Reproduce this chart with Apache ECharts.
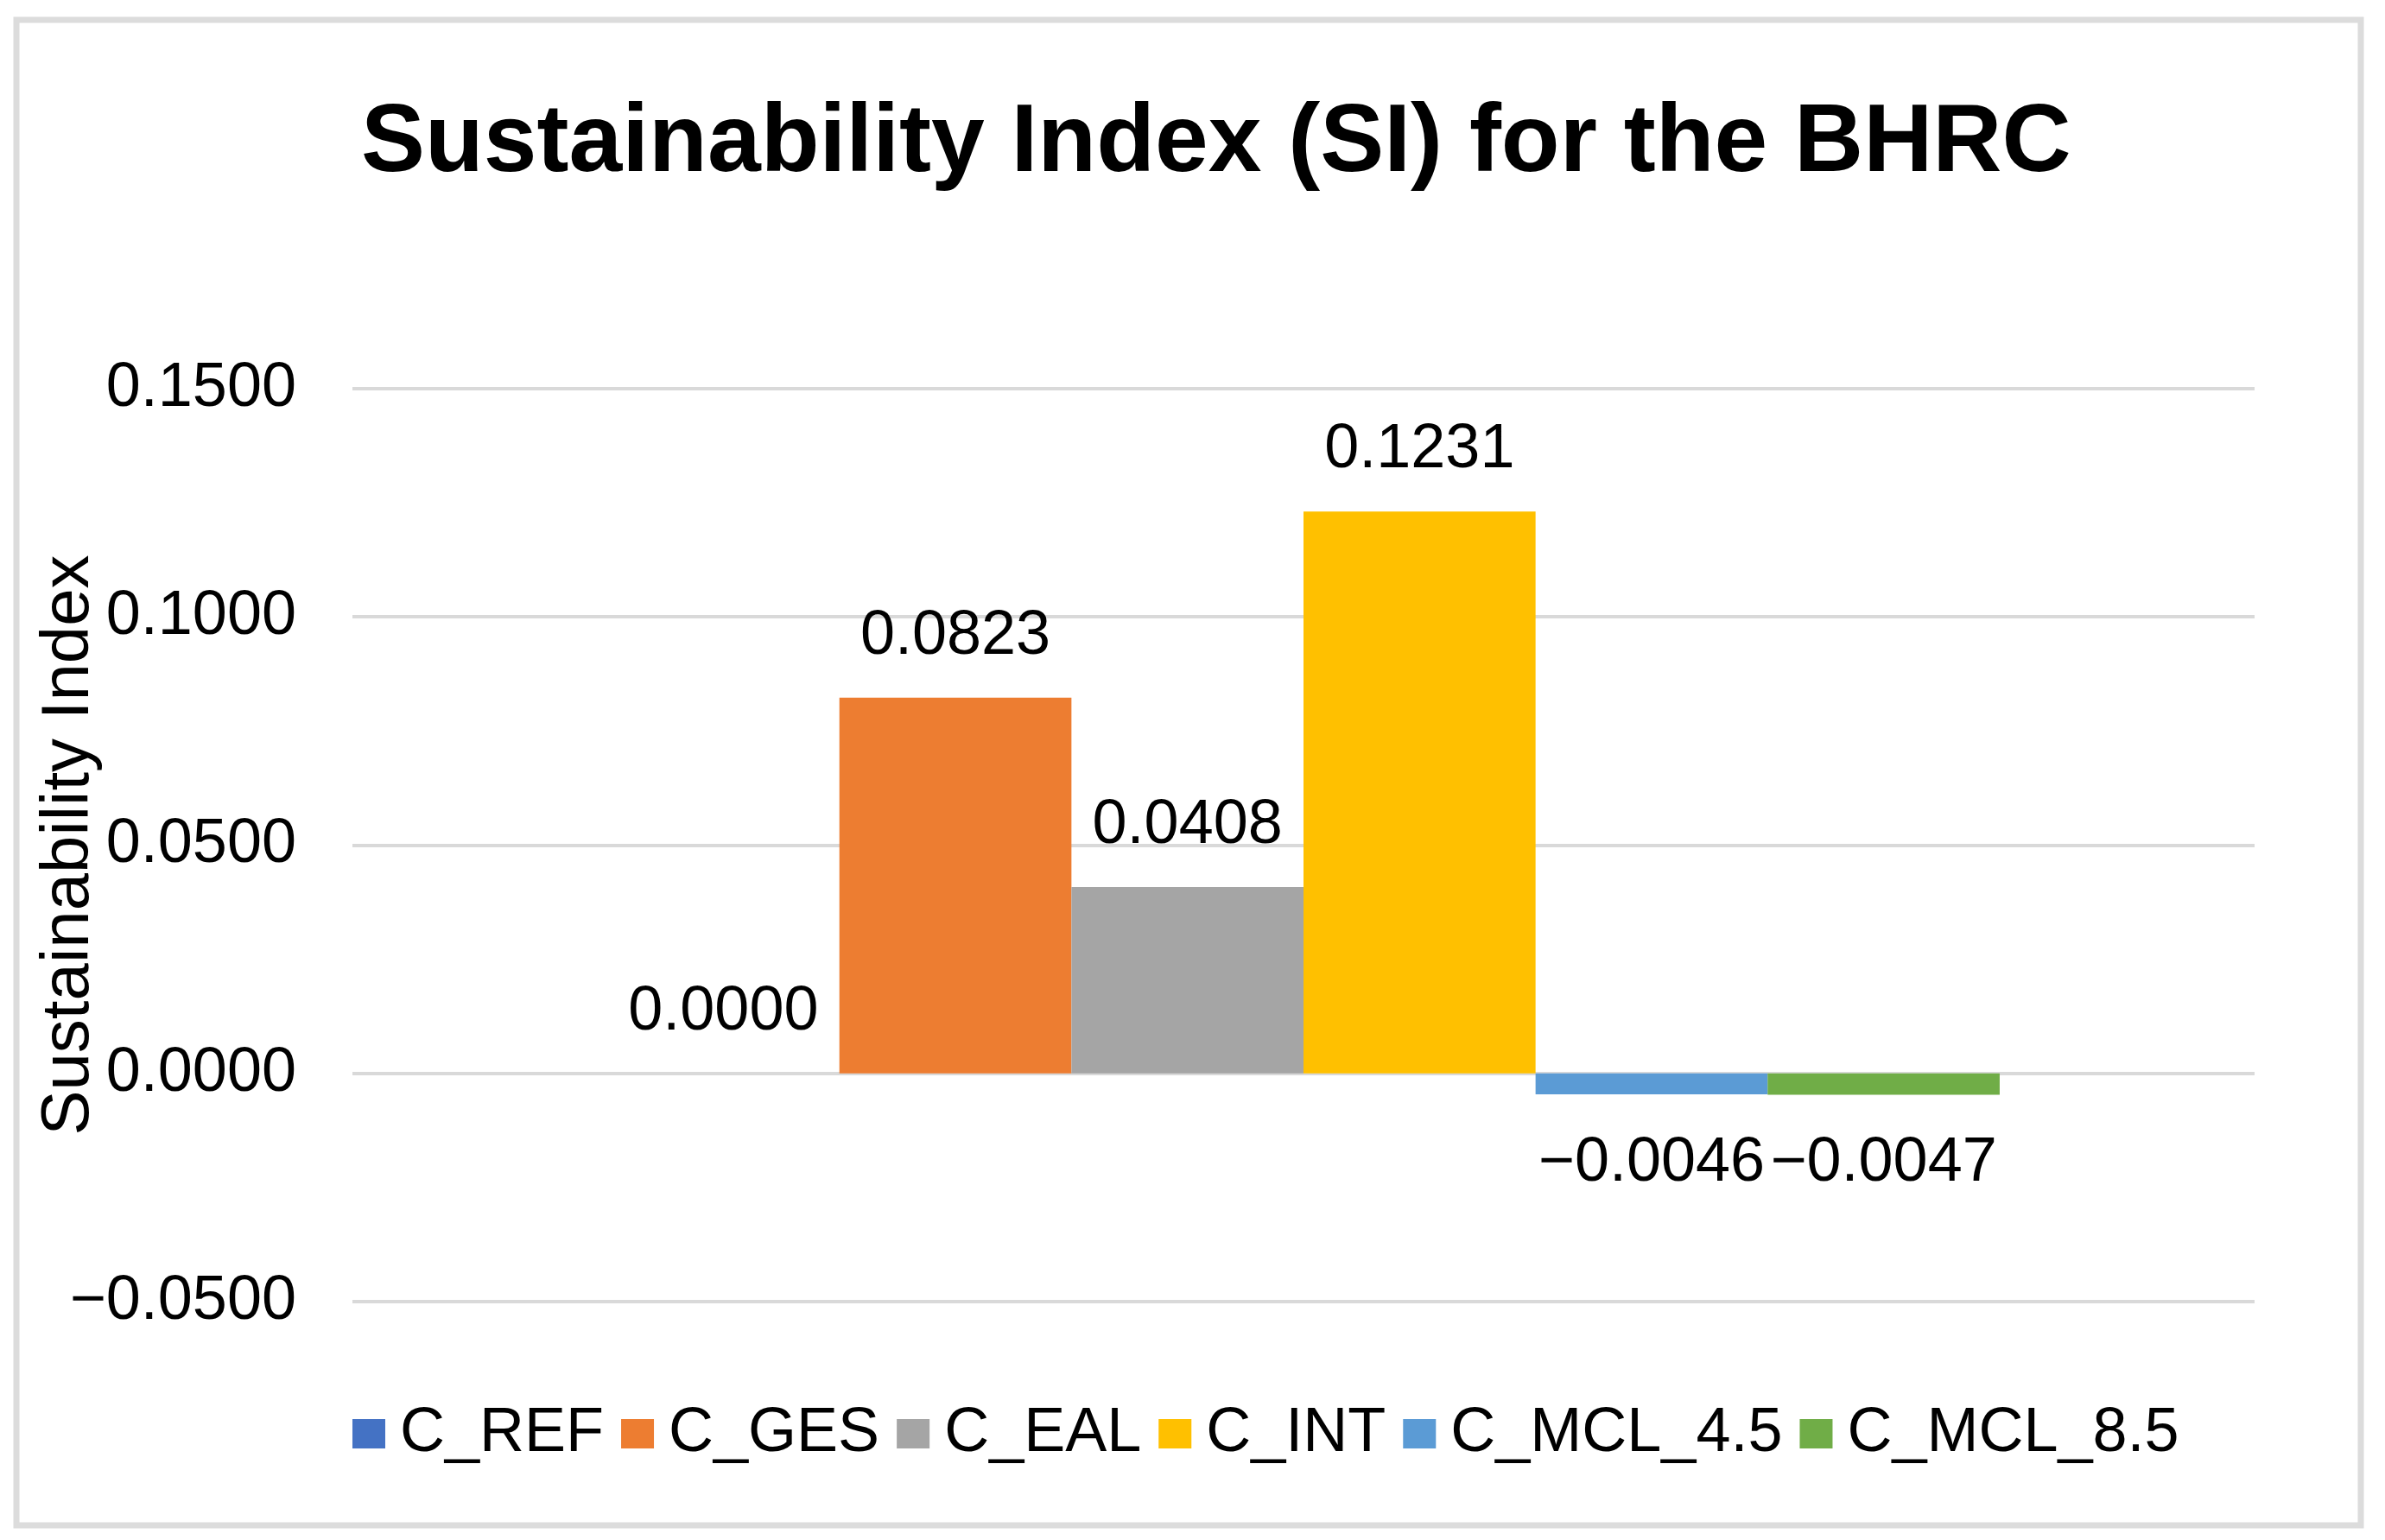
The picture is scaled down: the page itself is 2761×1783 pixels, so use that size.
<!DOCTYPE html>
<html>
<head>
<meta charset="utf-8">
<script src="https://cdn.jsdelivr.net/npm/echarts@6/dist/echarts.min.js"></script>
<style>
  html, body { margin: 0; padding: 0; background: #fff; }
  #chart { width: 2761px; height: 1783px; }
</style>
</head>
<body>
<div id="chart"></div>
<script>
// data
const categories = ['']
const seriesNames = ['C_REF', 'C_GES', 'C_EAL', 'C_INT', 'C_MCL_4.5', 'C_MCL_8.5']
const seriesValues = [0.0000, 0.0823, 0.0408, 0.1231, -0.0046, -0.0047]
const seriesColors = ['#4472C4', '#ED7D31', '#A5A5A5', '#FFC000', '#5B9BD5', '#70AD47']
const yTicks = [-0.05, 0, 0.05, 0.10, 0.15]

const FONT = "'Liberation Sans', Arial, sans-serif"
const fmt = v => v.toFixed(4).replace('-', '\u2212')

const series = seriesNames.map((name, i) => {
  const v = seriesValues[i]
  return {
    name: name,
    type: 'bar',
    barGap: '0%',
    barCategoryGap: '26.8%',
    itemStyle: { color: seriesColors[i] },
    label: {
      show: true,
      position: v < 0 ? 'bottom' : 'top',
      distance: v < 0 ? 44 : 35,
      color: '#000',
      fontFamily: FONT,
      fontSize: 72,
      formatter: p => fmt(p.value)
    },
    data: [v]
  }
})

const option = {
  animation: false,
  backgroundColor: '#fff',
  title: {
    text: 'Sustainability Index (SI) for the BHRC',
    left: 418,
    top: 112,
    padding: 0,
    textStyle: {
      fontFamily: FONT,
      fontWeight: 'bold',
      fontSize: 111,
      lineHeight: 111,
      color: '#000'
    }
  },
  legend: {
    left: 408,
    top: 1624,
    padding: 0,
    itemWidth: 38,
    itemHeight: 34,
    itemGap: 20,
    icon: 'rect',
    textStyle: {
      fontFamily: FONT,
      fontSize: 72,
      lineHeight: 72,
      color: '#000',
      padding: [0, 0, 0, 12]
    },
    data: seriesNames
  },
  grid: {
    left: 408,
    right: 151,
    top: 450,
    bottom: 276,
    containLabel: false,
    outerBoundsMode: 'none'
  },
  xAxis: {
    type: 'category',
    data: categories,
    axisLine: { show: false },
    axisTick: { show: false },
    axisLabel: { show: false }
  },
  yAxis: {
    type: 'value',
    min: yTicks[0],
    max: yTicks[yTicks.length - 1],
    interval: yTicks[1] - yTicks[0],
    name: 'Sustainability Index',
    nameLocation: 'middle',
    nameGap: 289,
    nameMoveOverlap: false,
    nameTextStyle: {
      fontFamily: FONT,
      fontSize: 78,
      lineHeight: 78,
      color: '#000'
    },
    axisLine: { show: false },
    axisTick: { show: false },
    axisLabel: {
      margin: 65,
      fontFamily: FONT,
      fontSize: 72,
      color: '#000',
      formatter: v => fmt(v)
    },
    splitLine: {
      show: true,
      lineStyle: { color: '#d9d9d9', width: 4 }
    }
  },
  graphic: [
    {
      type: 'rect',
      silent: true,
      z: -1,
      shape: { x: 19, y: 23, width: 2714, height: 1743 },
      style: { fill: null, stroke: '#dcdcdc', lineWidth: 7 }
    }
  ],
  series: series
}

const myChart = echarts.init(document.getElementById('chart'))
myChart.setOption(option)
</script>
</body>
</html>
